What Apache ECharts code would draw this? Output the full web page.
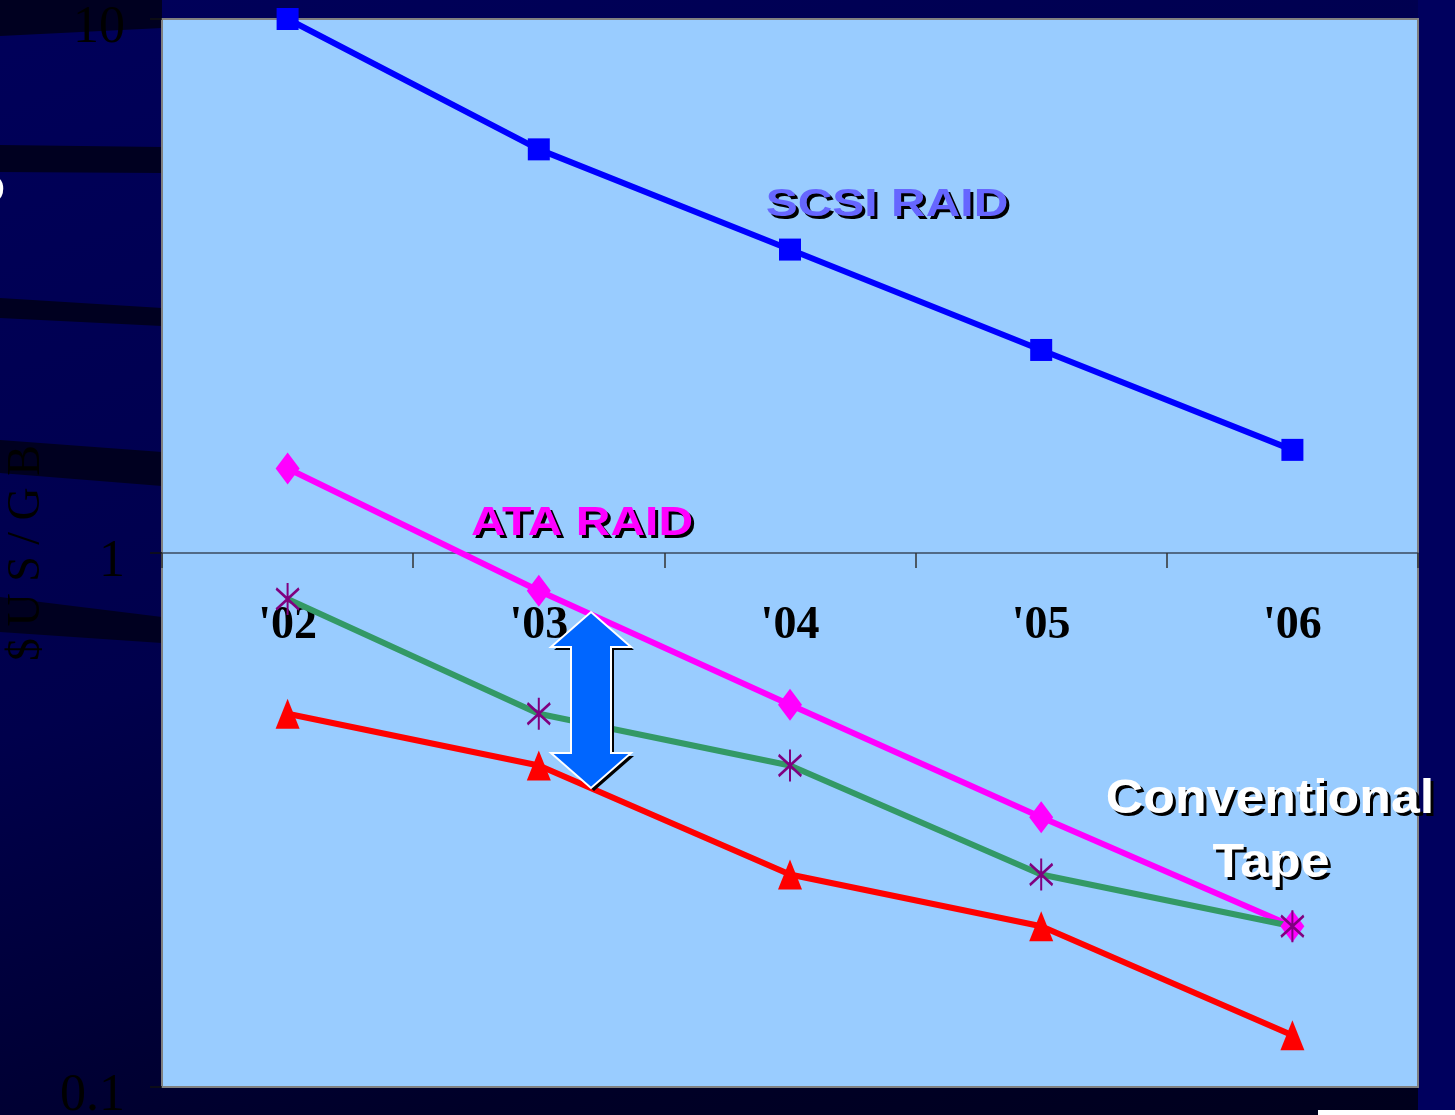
<!DOCTYPE html>
<html>
<head>
<meta charset="utf-8">
<script src="https://cdn.jsdelivr.net/npm/echarts@6/dist/echarts.min.js"></script>
<style>
  html, body { margin: 0; padding: 0; }
  body {
    width: 1455px; height: 1115px; overflow: hidden;
    background: linear-gradient(160deg, #00005a 0%, #00004c 45%, #000028 78%, #00001c 100%);
  }
  #chart { width: 1455px; height: 1115px; }
</style>
</head>
<body>
<div id="chart"></div>
<script>
  // 年份 / 数值（$US/GB，对数坐标）
  var years = ["'02", "'03", "'04", "'05", "'06"];
  var scsiRaid = [10, 5.7, 3.7, 2.4, 1.56];
  var ataRaid = [1.44, 0.85, 0.52, 0.32, 0.2];
  var tapeHigh = [0.82, 0.5, 0.4, 0.25, 0.2];
  var tapeLow = [0.5, 0.4, 0.25, 0.2, 0.125];

  var asterisk = 'path://M46,0L54,0L54,100L46,100Z M2,21L7,13L98,79L93,87Z M93,13L98,21L7,87L2,79Z';

  var myChart = echarts.init(document.getElementById('chart'));

  // 背景里的深色条纹
  function band(pts) {
    return { type: 'polygon', z: -10, shape: { points: pts }, style: { fill: '#000020' } };
  }
  function shadowText(txt, x, y, size, sx, color) {
    return [
      { type: 'text', x: x + 3, y: y + 3, scaleX: sx, z: 20,
        style: { text: txt, x: 0, y: 0, textAlign: 'center', textVerticalAlign: 'middle',
                 fontSize: size, fontWeight: 'bold', fontFamily: '"Liberation Sans", Arial', fill: '#000' } },
      { type: 'text', x: x, y: y, scaleX: sx, z: 21,
        style: { text: txt, x: 0, y: 0, textAlign: 'center', textVerticalAlign: 'middle',
                 fontSize: size, fontWeight: 'bold', fontFamily: '"Liberation Sans", Arial', fill: color } }
    ];
  }
  var arrowPts = [[591,612],[631,647],[611,647],[611,753],[631,753],[591,788],[551,753],[571,753],[571,647],[551,647]];
  var arrowShadow = arrowPts.map(function (p) { return [p[0] + 3, p[1] + 3]; });

  var graphics = [
    band([[0,0],[162,0],[162,28],[0,36]]),
    band([[0,145],[162,147],[162,173],[0,172]]),
    band([[0,298],[162,308],[162,326],[0,318]]),
    band([[0,440],[162,452],[162,486],[0,473]]),
    band([[0,597],[162,617],[162,643],[0,632]]),
    { type: 'rect', z: -10, shape: { x: 1418, y: 0, width: 37, height: 1115 }, style: { fill: '#00005e' } },
    { type: 'text', x: -24, y: 192, z: -5,
      style: { text: 'D', fontSize: 40, fontWeight: 'bold', fontFamily: '"Liberation Sans"', fill: '#fff', textVerticalAlign: 'middle' } },
    { type: 'rect', z: -5, shape: { x: 1318, y: 1110, width: 137, height: 5 }, style: { fill: '#fff' } },
    { type: 'polygon', z: 18, shape: { points: arrowShadow }, style: { fill: '#000' } },
    { type: 'polygon', z: 19, shape: { points: arrowPts }, style: { fill: '#0066ff', stroke: '#fff', lineWidth: 2 } }
  ];
  graphics = graphics
    .concat(shadowText('SCSI RAID', 887, 205, 39, 1.23, '#6666ff'))
    .concat(shadowText('ATA RAID', 582, 524, 40, 1.2, '#ff00ff'))
    .concat(shadowText('Conventional', 1270, 800, 48, 1.08, '#ffffff'))
    .concat(shadowText('Tape', 1271, 864, 48, 1.08, '#ffffff'));

  myChart.setOption({
    backgroundColor: 'transparent',
    animation: false,
    grid: {
      left: 162, top: 19, right: 37, bottom: 28,
      containLabel: false,
      outerBoundsMode: 'none',
      show: true,
      backgroundColor: '#99ccff',
      borderColor: '#808080',
      borderWidth: 2
    },
    xAxis: {
      type: 'category',
      data: years,
      position: 'bottom',
      offset: -534,   // 把x轴挪到 y=1 的位置
      axisLine: { lineStyle: { color: '#3a4a60', width: 1.5 } },
      axisTick: { show: true, inside: false, length: 15, lineStyle: { color: '#333', width: 1.5 } },
      axisLabel: {
        margin: 50,
        color: '#000',
        fontFamily: '"Liberation Serif", "Times New Roman"',
        fontWeight: 'bold',
        fontSize: 46
      },
      splitLine: { show: false }
    },
    yAxis: {
      type: 'log',
      logBase: 10,
      min: 0.1,
      max: 10,
      name: '$ U S / G B',
      nameLocation: 'middle',
      nameGap: 112,
      nameMoveOverlap: false,
      nameTextStyle: { color: '#000', fontFamily: '"Liberation Serif", "Times New Roman"', fontSize: 46 },
      axisLine: { show: true, lineStyle: { color: '#808080', width: 2 } },
      axisTick: { show: true, length: 12, lineStyle: { color: '#111', width: 1.5 } },
      axisLabel: {
        margin: 37,
        color: '#000',
        fontFamily: '"Liberation Serif", "Times New Roman"',
        fontSize: 52,
        verticalAlign: 'top',
        lineHeight: 18,
        formatter: function (v) { return String(v); }
      },
      splitLine: { show: false },
      minorTick: { show: false }
    },
    series: [
      {
        name: 'SCSI RAID', type: 'line', data: scsiRaid,
        symbol: 'rect', symbolSize: 22,
        lineStyle: { color: '#0000ff', width: 6 },
        itemStyle: { color: '#0000ff' }
      },
      {
        name: 'ATA RAID', type: 'line', data: ataRaid,
        symbol: 'diamond', symbolSize: [24, 32],
        lineStyle: { color: '#ff00ff', width: 6 },
        itemStyle: { color: '#ff00ff' }
      },
      {
        name: 'Tape low', type: 'line', data: tapeLow,
        symbol: 'triangle', symbolSize: [24, 30],
        lineStyle: { color: '#ff0000', width: 6 },
        itemStyle: { color: '#ff0000' }
      },
      {
        name: 'Tape high', type: 'line', data: tapeHigh,
        symbol: asterisk, symbolSize: [24, 32],
        lineStyle: { color: '#339966', width: 6 },
        itemStyle: { color: '#800080' }
      }
    ],
    graphic: graphics
  });
</script>
</body>
</html>
